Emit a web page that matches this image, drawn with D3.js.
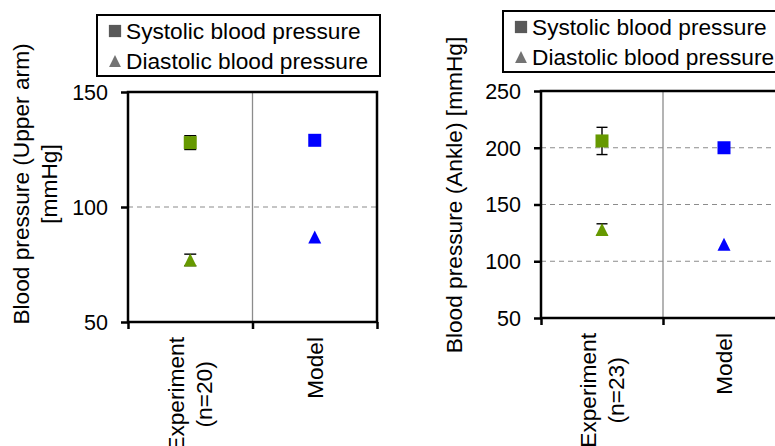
<!DOCTYPE html>
<html>
<head>
<meta charset="utf-8">
<script src="https://cdn.jsdelivr.net/npm/d3@7"></script>
<style>
	body { margin: 0; background: #fff; }
	text { font-family: "Liberation Sans", Arial, sans-serif; fill: #000; }
</style>
</head>
<body>
<div class="container"></div>
<script>
// data
const seriesNames = ['Systolic blood pressure', 'Diastolic blood pressure'];
const armCategories = [['Experiment', '(n=20)'], ['Model']];
const ankleCategories = [['Experiment', '(n=23)'], ['Model']];
const categoryColors = ['#669900', '#0000ff'];

const armSystolic = [128, 129];
const armSystolicErr = [3, 0];
const armDiastolic = [77, 87];
const armDiastolicErr = [2.5, 0];

const ankleSystolic = [206, 200];
const ankleSystolicErr = [12, 0];
const ankleDiastolic = [128, 115];
const ankleDiastolicErr = [5, 0];

const armTicks = [50, 100, 150];
const ankleTicks = [50, 100, 150, 200, 250];

const W = 775, H = 446;
const fontBig = 22.7, fontTick = 21.5;

const svg = d3.select('.container')
	.append('svg')
	.attr('width', W)
	.attr('height', H);

// triangle as wide as it is tall (excel style)
const triType = {
	draw(ctx, size) {
		const s = Math.sqrt(size);
		ctx.moveTo(0, -s / 2);
		ctx.lineTo(s / 2, s / 2);
		ctx.lineTo(-s / 2, s / 2);
		ctx.closePath();
	}
};
const squarePath = d3.symbol(d3.symbolSquare, 169)();
const triPath = d3.symbol(triType, 169)();
const legendSquare = d3.symbol(d3.symbolSquare, 150)();
const legendTri = d3.symbol(triType, 140)();

function drawPanel(p) {
	const g = svg.append('g');

	const x = d3.scaleBand()
		.domain(p.categories.map((d, i) => i))
		.range([p.x0, p.x1])
		.padding(0);
	const xEdge = d3.scaleLinear()
		.domain([0, p.categories.length])
		.range([p.x0, p.x1]);
	const y = d3.scaleLinear()
		.domain(d3.extent(p.ticks))
		.range([p.y1, p.y0]);

	// dashed gridlines at the inner ticks
	g.append('g')
		.selectAll('line')
		.data(p.ticks.slice(1, -1))
		.join('line')
		.attr('x1', p.x0)
		.attr('x2', p.x1)
		.attr('y1', d => y(d))
		.attr('y2', d => y(d))
		.attr('stroke', '#8c8c8c')
		.attr('stroke-width', 1.2)
		.attr('stroke-dasharray', '5,4');

	// category divider
	g.append('g')
		.selectAll('line')
		.data(d3.range(1, p.categories.length))
		.join('line')
		.attr('x1', d => xEdge(d))
		.attr('x2', d => xEdge(d))
		.attr('y1', p.y0)
		.attr('y2', p.y1)
		.attr('stroke', '#8c8c8c')
		.attr('stroke-width', 1.3);

	// axes
	const yAxis = g.append('g')
		.attr('transform', `translate(${p.x0},0)`)
		.call(d3.axisLeft(y).tickValues(p.ticks).tickSize(7).tickPadding(13).tickFormat(d3.format('d')));
	yAxis.select('.domain').remove();
	yAxis.selectAll('.tick line').attr('stroke', '#000').attr('stroke-width', 2.5);
	yAxis.selectAll('.tick text').attr('font-size', fontTick).attr('dy', '0.34em');

	const xAxis = g.append('g')
		.attr('transform', `translate(0,${p.y1})`)
		.call(d3.axisBottom(xEdge).tickValues(d3.range(p.categories.length + 1)).tickSize(7).tickFormat(''));
	xAxis.select('.domain').remove();
	xAxis.selectAll('.tick line').attr('stroke', '#000').attr('stroke-width', 2.5);

	// frame
	g.append('rect')
		.attr('x', p.x0)
		.attr('y', p.y0)
		.attr('width', p.x1 - p.x0)
		.attr('height', p.y1 - p.y0)
		.attr('fill', 'none')
		.attr('stroke', '#000')
		.attr('stroke-width', 2.5);

	// category labels, rotated
	const labels = g.append('g')
		.selectAll('g')
		.data(p.categories)
		.join('g')
		.attr('transform', (d, i) => `translate(${x(i) + x.bandwidth() / 2},${p.labelTop}) rotate(-90)`);
	labels.each(function(lines) {
		const lg = d3.select(this);
		const n = lines.length;
		const texts = lg.selectAll('text')
			.data(lines)
			.join('text')
			.attr('font-size', fontBig)
			.attr('text-anchor', 'middle')
			.attr('y', (d, i) => (i - (n - 1) / 2) * p.lineGap + 8)
			.text(d => d);
		let maxLen = 0;
		texts.each(function() { maxLen = Math.max(maxLen, this.getComputedTextLength()); });
		texts.attr('x', -maxLen / 2);
	});

	// y title
	const title = g.append('g')
		.attr('transform', `translate(${p.titleX},${p.titleY}) rotate(-90)`);
	title.selectAll('text')
		.data(p.title)
		.join('text')
		.attr('font-size', fontBig)
		.attr('text-anchor', 'middle')
		.attr('y', (d, i) => i * p.lineGap)
		.text(d => d);

	// error bars
	const series = [
		{ values: p.systolic, err: p.systolicErr, shape: squarePath },
		{ values: p.diastolic, err: p.diastolicErr, shape: triPath }
	];
	const bars = [];
	series.forEach(s => s.values.forEach((v, i) => {
		if (s.err[i] > 0) bars.push({ i: i, lo: v - s.err[i], hi: v + s.err[i] });
	}));
	const eb = g.append('g')
		.selectAll('g')
		.data(bars)
		.join('g')
		.attr('stroke', '#000')
		.attr('stroke-width', 1.4);
	eb.append('line')
		.attr('x1', d => x(d.i) + x.bandwidth() / 2)
		.attr('x2', d => x(d.i) + x.bandwidth() / 2)
		.attr('y1', d => y(d.lo))
		.attr('y2', d => y(d.hi));
	eb.selectAll('.cap')
		.data(d => [d.lo, d.hi].map(v => ({ i: d.i, v: v })))
		.join('line')
		.attr('class', 'cap')
		.attr('x1', d => x(d.i) + x.bandwidth() / 2 - p.cap)
		.attr('x2', d => x(d.i) + x.bandwidth() / 2 + p.cap)
		.attr('y1', d => y(d.v))
		.attr('y2', d => y(d.v));

	// markers
	series.forEach(s => {
		g.append('g')
			.selectAll('path')
			.data(s.values)
			.join('path')
			.attr('d', s.shape)
			.attr('transform', (d, i) => `translate(${x(i) + x.bandwidth() / 2},${y(d)})`)
			.attr('fill', (d, i) => categoryColors[i]);
	});

	// legend
	const lg = g.append('g').attr('transform', `translate(${p.legX},${p.legY})`);
	lg.append('rect')
		.attr('width', p.legW)
		.attr('height', 61)
		.attr('fill', '#fff')
		.attr('stroke', '#000')
		.attr('stroke-width', 2);
	const items = lg.selectAll('.item')
		.data(seriesNames)
		.join('g')
		.attr('class', 'item')
		.attr('transform', (d, i) => `translate(0,${16 + i * 30})`);
	items.append('path')
		.attr('d', (d, i) => i === 0 ? legendSquare : legendTri)
		.attr('transform', 'translate(18,0)')
		.attr('fill', (d, i) => i === 0 ? '#595959' : '#737373');
	items.append('text')
		.attr('x', 29)
		.attr('y', 8)
		.attr('font-size', fontBig)
		.text(d => d);
}

drawPanel({
	categories: armCategories,
	systolic: armSystolic, systolicErr: armSystolicErr,
	diastolic: armDiastolic, diastolicErr: armDiastolicErr,
	ticks: armTicks,
	title: ['Blood pressure (Upper arm)', '[mmHg]'],
	x0: 128, x1: 377, y0: 92, y1: 322,
	labelTop: 337, lineGap: 28, cap: 6,
	titleX: 29, titleY: 184,
	legX: 97, legY: 15, legW: 283
});

drawPanel({
	categories: ankleCategories,
	systolic: ankleSystolic, systolicErr: ankleSystolicErr,
	diastolic: ankleDiastolic, diastolicErr: ankleDiastolicErr,
	ticks: ankleTicks,
	title: ['Blood pressure (Ankle) [mmHg]'],
	x0: 541, x1: 785, y0: 91, y1: 318,
	labelTop: 333, lineGap: 28, cap: 5.5,
	titleX: 462, titleY: 195,
	legX: 503, legY: 11, legW: 283
});
</script>
</body>
</html>
